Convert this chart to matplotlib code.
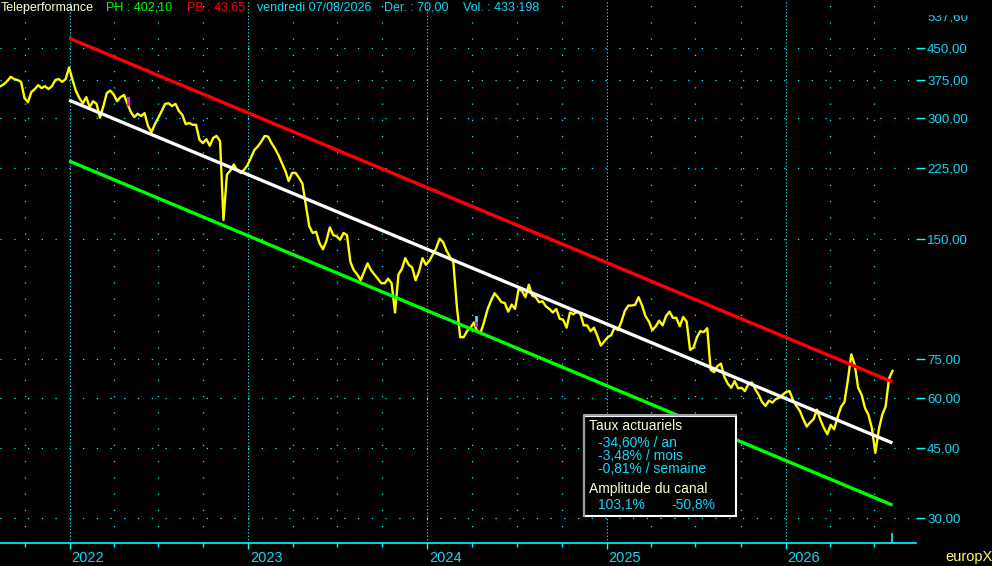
import pandas as pd
import matplotlib
matplotlib.use("Agg")
import matplotlib.pyplot as plt
from matplotlib.patches import Rectangle
from matplotlib.transforms import ScaledTranslation, blended_transform_factory

# weekly closes (Aug 2021 -> Aug 2026)
close = [
    361, 365, 372, 381, 376, 374, 370, 337, 329, 349,
    355, 363, 357, 361, 355, 361, 374, 376, 370, 376,
    402.1, 374, 351, 337, 327, 339, 320, 331, 326, 301,
    322, 347, 352, 344, 331, 339, 343, 326, 311, 302,
    308, 304, 309, 287, 277, 290, 301, 313, 326, 327,
    322, 326, 313, 306, 290, 292, 289, 289, 265, 260,
    266, 256, 268, 271, 263, 167, 217, 222, 230, 222,
    219, 223, 229, 239, 250, 255, 262, 271, 270, 260,
    252, 243, 232, 222, 209, 219, 219, 213, 206, 182,
    161, 155, 156, 146, 141, 148, 160, 153, 152, 149,
    155, 153, 131, 125, 122, 118, 124, 130, 125, 122,
    119, 116, 116, 119, 116, 98, 122, 126, 134, 129,
    127, 118, 124, 134, 129, 132, 137, 142, 150, 147,
    140, 135, 131, 102, 85, 85, 88, 89.8, 92.5, 87.6,
    87.6, 93, 100, 105, 109.5, 107, 104, 103.5, 98.5, 102.5,
    100, 112, 111, 107, 115, 108, 107, 104, 104.5, 101.5,
    100, 98, 100, 94.5, 94, 89.8, 98, 97, 98.5, 97.5,
    91, 91, 88, 89.8, 85.5, 81, 83, 85, 86, 89.8,
    88.5, 93, 99, 102, 102, 102.5, 107, 102, 96, 93,
    88.5, 90.5, 93.5, 91, 96, 98.5, 95, 95, 90.5, 95.5,
    93, 79, 80, 85, 88, 87.5, 89.5, 70.4, 69.5, 72,
    73, 67.6, 65, 63.5, 66, 63.3, 63.5, 62.3, 65, 65.5,
    63, 61, 58.5, 57.2, 59, 58.3, 59.5, 60, 61, 62,
    62.3, 59.2, 57.2, 55.6, 53, 50.8, 52, 53, 56, 52.8,
    50.4, 48.6, 51.3, 50, 53.6, 56.9, 58.5, 66.4, 77, 72.5,
    63.5, 61, 56.5, 54.3, 50.3, 43.65, 49.8, 54.3, 57, 67, 70.0,
]
weeks = pd.date_range("2021-08-13", periods=len(close), freq="W-FRI")

# regression channel (end points)
channel_dates = pd.to_datetime(["2021-12-31", "2026-08-07"])
upper = [476, 65.7]
middle = [333, 46.2]
lower = [234.6, 32.3]

# small event markers
event_dates = pd.to_datetime(["2022-04-30", "2024-04-09"])
event_magenta = [(326, 337), (91, 94)]
event_cyan = [None, (94, 95.6)]

price_levels = [30, 45, 60, 75, 150, 225, 300, 375, 450]
top_level = 537.60
years = [2022, 2023, 2024, 2025, 2026]

CYAN = "#00ffff"
TXT = "#10d8f8"
PALE = "#ffffd0"
W, H = 992, 566

plt.rcParams["font.family"] = ["Liberation Sans", "DejaVu Sans"]

fig = plt.figure(figsize=(W / 100, H / 100), dpi=100, facecolor="black")
ax = fig.add_axes([0, 23 / H, 916 / W, 543 / H], facecolor="black")
ax.set_yscale("log")
ax.set_ylim(25.97, 593)
ax.set_xlim(pd.Timestamp("2021-08-12"), pd.Timestamp("2026-09-24"))

for s in ["top", "left", "right"]:
    ax.spines[s].set_visible(False)
ax.spines["bottom"].set_color(CYAN)
ax.spines["bottom"].set_linewidth(1.2)

# grid
for lv in price_levels:
    ax.axhline(lv, color=CYAN, lw=0.9, ls=(0, (1, 10)), zorder=1)
year_starts = [pd.Timestamp(f"{y}-01-01") for y in years]
quarters = [d for d in pd.date_range("2021-10-01", "2026-09-01", freq="QS")
            if d.month != 1]
for d in year_starts:
    ax.axvline(d, color=CYAN, lw=0.8, ls=(0, (1, 2)), zorder=1)
for d in quarters:
    ax.axvline(d, color=CYAN, lw=0.9, ls=(0, (1, 12)), zorder=1)

# price and channel
ax.plot(weeks, close, color="#ffff00", lw=1.7, zorder=3)
ax.plot(channel_dates, upper, color="#ff0000", lw=2.4, zorder=4, solid_capstyle="butt")
ax.plot(channel_dates, middle, color="white", lw=2.4, zorder=4, solid_capstyle="butt")
ax.plot(channel_dates, lower, color="#00ff00", lw=2.4, zorder=4, solid_capstyle="butt")

for d, mg, cy in zip(event_dates, event_magenta, event_cyan):
    ax.plot([d, d], mg, color="#ff00ff", lw=2, zorder=5)
    if cy:
        ax.plot([d, d], cy, color=CYAN, lw=2, zorder=5)

# last date marker
ax.axvline(weeks[-1], ymin=0, ymax=9 / 543, color=CYAN, lw=1.2, zorder=5)

# y axis on the right
ax.yaxis.tick_right()
ax.set_yticks(price_levels)
ax.set_yticklabels([f"{v:.2f}".replace(".", ",") for v in price_levels])
ax.yaxis.set_minor_locator(matplotlib.ticker.NullLocator())
ax.tick_params(axis="y", colors=CYAN, labelcolor=TXT, length=6.5, width=1,
               pad=1.5, labelsize=9.6, direction="out")
ytr = blended_transform_factory(ax.transAxes, ax.transData)
ax.text(1.0, top_level, f"{top_level:.2f}".replace(".", ","),
        transform=ytr + ScaledTranslation(0.115, 0, fig.dpi_scale_trans),
        color=TXT, fontsize=9.6, va="center", ha="left", clip_on=False)

# x axis
ax.set_xticks(year_starts)
ax.set_xticklabels([str(y) for y in years])
ax.set_xticks(quarters, minor=True)
ax.tick_params(axis="x", which="major", colors=CYAN, length=4, width=1, pad=2)
ax.tick_params(axis="x", which="minor", colors=CYAN, length=3, width=1)
for lab in ax.get_xticklabels():
    lab.set_ha("left")
    lab.set_family(["Liberation Sans Narrow", "Liberation Sans"])
    lab.set_fontsize(10.5)
    lab.set_color(TXT)
    lab.set_transform(lab.get_transform() + ScaledTranslation(0.02, 0, fig.dpi_scale_trans))

# cut the top label like the original
fig.add_artist(Rectangle((916 / W, 1 - 14 / H), 76 / W, 14 / H,
                         transform=fig.transFigure, color="black", zorder=5))


def fx(x):
    return x / W


def fy(y):
    return 1 - y / H


# header
ph = f"{max(close):.2f}".replace(".", ",")
pb = f"{min(close):.2f}".replace(".", ",")
der = f"{close[-1]:.2f}".replace(".", ",")
header = [
    (1, "Teleperformance", PALE),
    (106, f"PH : {ph}", "#00ff00"),
    (187, f"PB : {pb}", "#ff0000"),
    (257, "vendredi " + weeks[-1].strftime("%d/%m/%Y"), TXT),
    (384, f"Der. : {der}", TXT),
    (463, "Vol. : 433 198", TXT),
]
for x, s, c in header:
    fig.text(fx(x), fy(8), s, color=c, fontsize=9, va="center", ha="left", zorder=6)

# info box
fig.add_artist(Rectangle((fx(584), fy(516)), fx(152), 100 / H, transform=fig.transFigure,
                         facecolor="black", edgecolor="white", lw=1.5, zorder=6))
fig.add_artist(plt.Line2D([fx(584), fx(584), fx(736)], [fy(516), fy(415), fy(415)],
                          transform=fig.transFigure, color="#a0a0a0", lw=1.5, zorder=7))
box_lines = [
    (589, 426, "Taux actuariels", PALE),
    (598, 443, "-34,60% / an", TXT),
    (598, 456, "-3,48% / mois", TXT),
    (598, 469, "-0,81% / semaine", TXT),
    (589, 489, "Amplitude du canal", PALE),
    (598, 505, "103,1%", TXT),
    (671, 505, "-50,8%", TXT),
]
for x, y, s, c in box_lines:
    fig.text(fx(x), fy(y), s, color=c, fontsize=10, va="center", ha="left", zorder=8)

fig.text(fx(945), fy(557), "europX", color="#ffff60", fontsize=10.5,
         va="center", ha="left", zorder=8)

fig.savefig("out.png", dpi=100, facecolor="black")
